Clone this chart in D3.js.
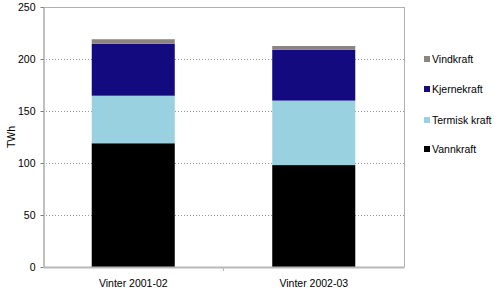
<!DOCTYPE html>
<html><head><meta charset="utf-8">
<script src="https://cdn.jsdelivr.net/npm/d3@7"></script>
<style>body{margin:0;background:#fff}svg{display:block}text{font-family:"Liberation Sans",Arial,sans-serif}</style>
</head><body><svg id="c" width="500" height="290"></svg>
<script>
const categories = ["Vinter 2001-02", "Vinter 2002-03"];
const seriesNames = ["Vannkraft", "Termisk kraft", "Kjernekraft", "Vindkraft"];
const vannkraft = [119, 98];
const termisk = [45.7, 62];
const kjernekraft = [50, 49];
const vindkraft = [4.3, 3.5];
const yTicks = [0, 50, 100, 150, 200, 250];
const colors = ["#000000", "#99d1e0", "#140a80", "#8c847f"];

const svg = d3.select("#c");
const L = 43, R = 404, T = 7, B = 267;
const x = d3.scaleBand().domain(categories).range([L, R]).paddingInner(0.54).paddingOuter(0.27);
const y = d3.scaleLinear().domain([0, 250]).range([B, T]);

// gridlines
svg.append("g").selectAll("line").data(yTicks.filter(d => d > 0 && d < 250)).join("line")
  .attr("x1", L).attr("x2", R).attr("y1", d => y(d) + 0.5).attr("y2", d => y(d) + 0.5)
  .attr("stroke", "#999").attr("stroke-dasharray", "1,2");
// frame top/right
svg.append("line").attr("x1", L).attr("x2", R + 0.5).attr("y1", T + 0.5).attr("y2", T + 0.5).attr("stroke", "#b0b0b0");
svg.append("line").attr("x1", R + 0.5).attr("x2", R + 0.5).attr("y1", T).attr("y2", B).attr("stroke", "#b0b0b0");

// stacked bars
const table = categories.map((c, i) => ({cat: c, Vannkraft: vannkraft[i], "Termisk kraft": termisk[i], Kjernekraft: kjernekraft[i], Vindkraft: vindkraft[i]}));
const stack = d3.stack().keys(seriesNames)(table);
svg.append("g").selectAll("g").data(stack).join("g").attr("fill", (d, i) => colors[i])
  .selectAll("rect").data(d => d).join("rect")
  .attr("x", d => x(d.data.cat)).attr("width", x.bandwidth())
  .attr("y", d => y(d[1])).attr("height", d => y(d[0]) - y(d[1]));

// y axis
const ya = svg.append("g").attr("transform", `translate(${L + 0.5},0)`)
  .call(d3.axisLeft(y).tickValues(yTicks).tickSize(3).tickPadding(5).tickSizeOuter(0));
ya.select(".domain").attr("stroke", "#808080");
ya.selectAll(".tick line").attr("stroke", "#808080");
ya.selectAll("text").attr("font-size", 10.5).attr("fill", "#000");

// x axis
const xa = svg.append("g").attr("transform", `translate(0,${B})`)
  .call(d3.axisBottom(x).tickSize(0).tickPadding(13));
xa.select(".domain").attr("stroke", "#b8b8b8").attr("stroke-width", 2);
xa.selectAll("text").attr("font-size", 10.5).attr("fill", "#000");
svg.append("line").attr("x1", (L + R) / 2).attr("x2", (L + R) / 2).attr("y1", B).attr("y2", B + 4).attr("stroke", "#b8b8b8");

// y label
svg.append("text").attr("transform", "translate(15,137) rotate(-90)").attr("text-anchor", "middle")
  .attr("font-size", 10.5).text("TWh");

// legend
const legendOrder = ["Vindkraft", "Kjernekraft", "Termisk kraft", "Vannkraft"];
const legendY = [59, 89, 120, 149];
const lg = svg.append("g").selectAll("g").data(legendOrder).join("g")
  .attr("transform", (d, i) => `translate(424,${legendY[i]})`);
lg.append("rect").attr("x", 0).attr("y", -3).attr("width", 6).attr("height", 6)
  .attr("fill", d => colors[seriesNames.indexOf(d)]);
lg.append("text").attr("x", 8).attr("y", 4).attr("font-size", 10.5).text(d => d);
</script></body></html>
